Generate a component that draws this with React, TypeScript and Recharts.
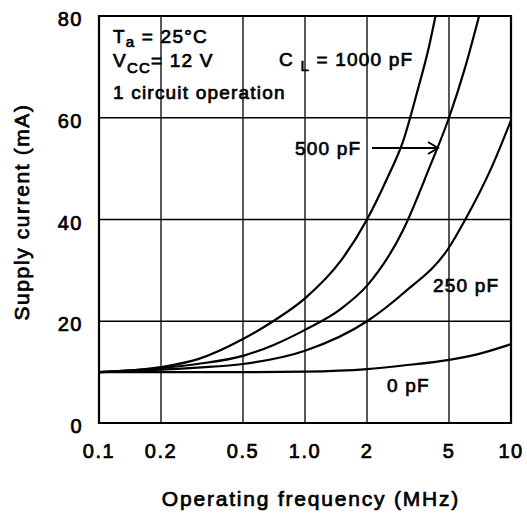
import { LineChart, Line, XAxis, YAxis, CartesianGrid, ReferenceArea } from 'recharts';

// frequency (MHz) / supply current (mA)
const freq0 = [0.1, 0.2, 0.5, 1, 2, 3, 5, 7, 10];
const cur0 = [10, 10, 10, 10.1, 10.6, 11.3, 12.4, 13.6, 15.5];

const freq250 = [0.1, 0.2, 0.3, 0.5, 1, 2, 3, 5, 6, 8, 10];
const cur250 = [10, 10.5, 10.9, 11.6, 14.2, 20, 25.5, 34.5, 40, 50, 59.5];

const freq500 = [0.1, 0.2, 0.3, 0.5, 0.7, 1, 1.5, 2, 3, 4, 5, 6, 7];
const cur500 = [10, 10.8, 11.6, 13.2, 15.3, 18.3, 22.5, 27, 38, 50, 60, 70, 80];

const freq1000 = [0.1, 0.2, 0.3, 0.5, 0.7, 1, 1.5, 2, 2.5, 3, 3.5, 4, 4.3];
const cur1000 = [10, 11, 12.5, 16.5, 20, 24.5, 32, 40, 48, 55.5, 65, 74, 80];

const xTicks = [0.1, 0.2, 0.5, 1, 2, 5, 10];
const yTicks = [0, 20, 40, 60, 80];

const toRows = (f: number[], c: number[]) => f.map((x, k) => ({ f: x, i: c[k] }));

const series = [
  { key: 'c0', data: toRows(freq0, cur0) },
  { key: 'c250', data: toRows(freq250, cur250) },
  { key: 'c500', data: toRows(freq500, cur500) },
  { key: 'c1000', data: toRows(freq1000, cur1000) },
];

const FONT = '"Liberation Sans", Arial, sans-serif';
const txt = {
  fontFamily: FONT,
  fill: '#000',
  stroke: '#000',
  strokeWidth: 0.7,
};

const YTick = (props: any) => {
  const { x, y, payload } = props;
  return (
    <text x={x} y={y + 3} textAnchor="end" dominantBaseline="central" fontSize={20} letterSpacing={1.5} {...txt}>
      {payload.value}
    </text>
  );
};

const XTick = (props: any) => {
  const { x, y, payload } = props;
  const v = payload.value;
  return (
    <text x={x} y={y} textAnchor="middle" dy="0.71em" fontSize={20} letterSpacing={1.5} {...txt}>
      {v === 1 ? '1.0' : String(v)}
    </text>
  );
};

export default function App() {
  return (
    <div style={{ position: 'absolute', left: 0, top: 0, background: '#fff' }}>
      <LineChart width={527} height={516} margin={{ top: 16, right: 16, left: 0, bottom: 0 }}>
        <CartesianGrid stroke="#000" strokeWidth={1.3} />
        <XAxis
          dataKey="f"
          type="number"
          scale="log"
          domain={[0.1, 10]}
          ticks={xTicks}
          allowDataOverflow
          axisLine={false}
          tickLine={false}
          tickSize={0}
          tickMargin={21}
          height={93}
          tick={XTick}
        />
        <YAxis
          type="number"
          domain={[0, 80]}
          ticks={yTicks}
          allowDataOverflow
          axisLine={false}
          tickLine={false}
          tickSize={0}
          tickMargin={16}
          width={99}
          tick={YTick}
        />
        <ReferenceArea x1={0.1} x2={10} y1={0} y2={80} fill="none" stroke="#000" strokeWidth={2.2} ifOverflow="visible" />
        {series.map((s) => (
          <Line
            key={s.key}
            data={s.data}
            dataKey="i"
            type="monotone"
            stroke="#000"
            strokeWidth={2.2}
            dot={false}
            activeDot={false}
            isAnimationActive={false}
          />
        ))}

        <g>
          <text x={113} y={43} fontSize={19} letterSpacing={1.2} {...txt}>
            T<tspan fontSize={15} dy={4}>a</tspan>
            <tspan dy={-4}> = 25°C</tspan>
          </text>
          <text x={113} y={67} fontSize={19} letterSpacing={1.2} {...txt}>
            V<tspan fontSize={15} dy={6}>CC</tspan>
            <tspan dy={-6}>= 12 V</tspan>
          </text>
          <text x={113} y={99} fontSize={19} letterSpacing={1.2} {...txt}>
            1 circuit operation
          </text>
          <text x={279} y={66} fontSize={19} letterSpacing={1.2} {...txt}>
            C <tspan fontSize={15} dy={5}>L</tspan>
            <tspan dy={-5}> = 1000 pF</tspan>
          </text>
          <text x={295} y={155} fontSize={19} letterSpacing={1.2} {...txt}>
            500 pF
          </text>
          <line x1={372} y1={148} x2={437} y2={148} stroke="#000" strokeWidth={2} />
          <polyline points="428,142 438,148 428,154" fill="none" stroke="#000" strokeWidth={2} />
          <text x={433} y={292} fontSize={19} letterSpacing={1.2} {...txt}>
            250 pF
          </text>
          <text x={387} y={392} fontSize={19} letterSpacing={1.2} {...txt}>
            0 pF
          </text>
          <text
            x={21}
            y={212}
            transform="rotate(-90 21 212)"
            textAnchor="middle"
            dominantBaseline="central"
            fontSize={21}
            letterSpacing={1.6}
            {...txt}
          >
            Supply current (mA)
          </text>
          <text x={311} y={506} textAnchor="middle" fontSize={21} letterSpacing={1.8} {...txt}>
            Operating frequency (MHz)
          </text>
        </g>
      </LineChart>
    </div>
  );
}
